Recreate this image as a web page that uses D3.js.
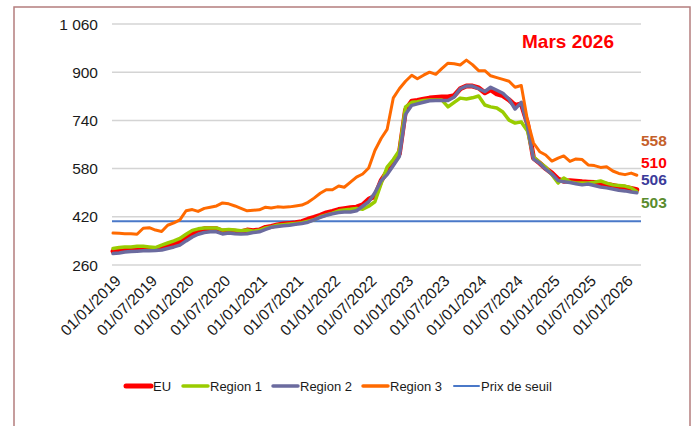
<!DOCTYPE html>
<html><head><meta charset="utf-8">
<script src="https://cdn.jsdelivr.net/npm/d3@7"></script>
<style>
html,body{margin:0;padding:0;background:#fff;}
svg{display:block;font-family:"Liberation Sans",Arial,sans-serif;}
</style></head>
<body>
<svg id="chart" width="696" height="426"></svg>
<script>
const months = [
"2019-01","2019-02","2019-03","2019-04","2019-05","2019-06","2019-07","2019-08","2019-09","2019-10","2019-11","2019-12",
"2020-01","2020-02","2020-03","2020-04","2020-05","2020-06","2020-07","2020-08","2020-09","2020-10","2020-11","2020-12",
"2021-01","2021-02","2021-03","2021-04","2021-05","2021-06","2021-07","2021-08","2021-09","2021-10","2021-11","2021-12",
"2022-01","2022-02","2022-03","2022-04","2022-05","2022-06","2022-07","2022-08","2022-09","2022-10","2022-11","2022-12",
"2023-01","2023-02","2023-03","2023-04","2023-05","2023-06","2023-07","2023-08","2023-09","2023-10","2023-11","2023-12",
"2024-01","2024-02","2024-03","2024-04","2024-05","2024-06","2024-07","2024-08","2024-09","2024-10","2024-11","2024-12",
"2025-01","2025-02","2025-03","2025-04","2025-05","2025-06","2025-07","2025-08","2025-09","2025-10","2025-11","2025-12",
"2026-01","2026-02","2026-03"];

const euValues = [306,308,312,313,314,315,314,314,318,322,328,338,
352,365,375,380,380,380,372,374,372,370,376,374,
376,385,388,393,396,398,400,404,412,418,425,433,
438,444,447,450,452,460,478,488,540,570,600,630,
775,804,806,810,814,816,818,818,822,845,854,854,
848,832,842,828,822,808,790,795,730,615,598,580,
565,545,538,540,538,536,535,534,530,528,524,520,
518,514,510];

const region1Values = [315,318,320,320,322,322,320,318,326,333,340,348,
362,375,380,383,383,383,376,378,376,374,376,372,
375,383,386,392,394,396,398,400,405,410,420,426,
432,440,443,445,448,445,455,470,530,585,610,640,
785,800,802,806,808,808,808,785,800,814,811,815,
821,791,785,781,768,741,731,735,705,619,600,585,
560,532,549,536,532,532,532,535,539,532,526,524,
522,516,503];

const region2Values = [298,300,303,305,306,307,307,308,310,315,320,326,
340,353,362,368,370,370,363,366,364,363,364,368,
370,378,385,388,390,392,395,398,402,410,418,425,
430,434,436,436,440,455,470,500,540,560,590,620,
760,790,795,800,805,806,806,806,818,845,854,854,
845,836,850,840,830,810,778,800,720,612,598,578,
562,540,536,534,530,526,529,524,519,516,512,508,
506,502,500];

const region3Values = [366,365,364,364,362,382,384,376,371,392,400,410,
440,444,438,448,452,456,466,463,456,448,440,442,
443,452,449,453,452,453,456,459,468,482,498,510,
510,522,518,535,552,562,582,640,680,710,815,845,
870,890,878,890,900,893,912,930,928,924,940,925,
905,905,888,882,876,870,850,856,740,665,636,625,
605,615,622,604,612,610,592,590,584,586,572,564,
560,565,558];

const thresholdValue = 405;

const seriesNames = ["EU","Region 1","Region 2","Region 3"];
const seriesColors = ["#ff0000","#99cc00","#6b6b9f","#ff6a00"];
const thresholdName = "Prix de seuil";
const thresholdColor = "#4a78c8";

const yTicks = [260,420,580,740,900,1060];
const xTickLabels = ["01/01/2019","01/07/2019","01/01/2020","01/07/2020","01/01/2021","01/07/2021","01/01/2022","01/07/2022","01/01/2023","01/07/2023","01/01/2024","01/07/2024","01/01/2025","01/07/2025","01/01/2026"];

const endLabels = ["558","510","506","503"];
const endLabelColors = ["#c5602a","#ff0000","#3b3b9a","#5a8c2e"];
const titleText = "Mars 2026";

const parseMonth = d3.timeParse("%Y-%m");
const parseTick = d3.timeParse("%d/%m/%Y");
const dates = months.map(parseMonth);

const svg = d3.select("#chart");

// outer frame
svg.append("rect").attr("x",14).attr("y",7).attr("width",676).attr("height",440)
  .attr("fill","none").attr("stroke","#b47e7e").attr("stroke-width",1.5);

const x = d3.scaleTime().domain([parseTick("01/01/2019"), parseTick("01/01/2026")]).range([113, 625]);
const y = d3.scaleLinear().domain([260,1060]).range([265,24]);

// gridlines
svg.append("g").selectAll("line").data(yTicks).join("line")
  .attr("x1",112).attr("x2",641)
  .attr("y1",d=>y(d)).attr("y2",d=>y(d))
  .attr("stroke","#d4d4d4").attr("stroke-width",1.5);

// y labels
svg.append("g").selectAll("text").data(yTicks).join("text")
  .attr("x",98).attr("y",d=>y(d)).attr("dy","0.36em")
  .attr("text-anchor","end").attr("font-size","15.5px").attr("fill","#1a1a1a")
  .text(d=>d3.format(",")(d).replace(",", " "));

// x labels
svg.append("g").selectAll("text").data(xTickLabels).join("text")
  .attr("transform",d=>`translate(${x(parseTick(d))+5},${278}) rotate(-45)`)
  .attr("text-anchor","end").attr("dy","0.35em")
  .attr("font-size","15.5px").attr("fill","#1a1a1a")
  .text(d=>d);

// threshold
svg.append("line")
  .attr("x1",112).attr("x2",641)
  .attr("y1",y(thresholdValue)).attr("y2",y(thresholdValue))
  .attr("stroke",thresholdColor).attr("stroke-width",2);

const allSeries = [euValues, region1Values, region2Values, region3Values];
const widths = [5,3.5,3.5,3];
const line = d3.line().x((d,i)=>x(dates[i])).y(d=>y(d)).curve(d3.curveLinear);

allSeries.forEach((vals,k)=>{
  svg.append("path").datum(vals)
    .attr("d",line)
    .attr("fill","none")
    .attr("stroke",seriesColors[k])
    .attr("stroke-width",widths[k])
    .attr("stroke-linejoin","round")
    .attr("stroke-linecap","round");
});

// title
svg.append("text").attr("x",568).attr("y",48).attr("text-anchor","middle")
  .attr("font-size","19px").attr("font-weight","bold").attr("fill","#ff0000")
  .text(titleText);

// end labels
const endY = [146,168,185,208];
svg.append("g").selectAll("text").data(endLabels).join("text")
  .attr("x",641).attr("y",(d,i)=>endY[i])
  .attr("font-size","15.5px").attr("font-weight","bold")
  .attr("fill",(d,i)=>endLabelColors[i])
  .text(d=>d);

// legend
const legendNames = seriesNames.concat([thresholdName]);
const legendColors = seriesColors.concat([thresholdColor]);
const legendX = [125,182,272,362,453];
const legendW = [5,3.5,3.5,3.5,2];
const lg = svg.append("g");
legendNames.forEach((n,i)=>{
  lg.append("line").attr("x1",legendX[i]+1).attr("x2",legendX[i]+26)
    .attr("y1",386).attr("y2",386)
    .attr("stroke",legendColors[i]).attr("stroke-width",legendW[i])
    .attr("stroke-linecap","round");
  lg.append("text").attr("x",legendX[i]+28).attr("y",386).attr("dy","0.35em")
    .attr("font-size","13px").attr("fill","#1a1a1a").text(n);
});
</script>
</body></html>
